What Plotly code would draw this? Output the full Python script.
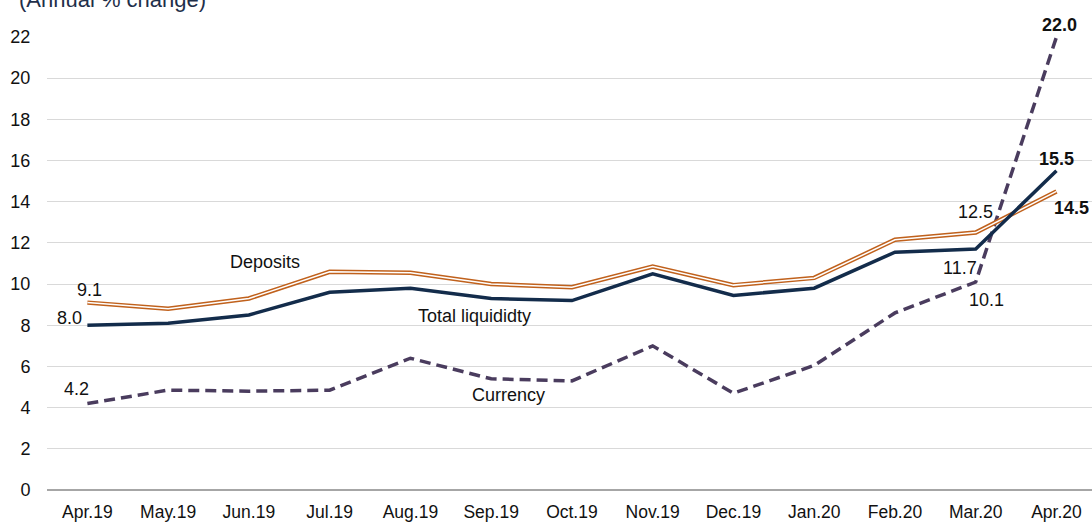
import plotly.graph_objects as go

months = ["Apr.19", "May.19", "Jun.19", "Jul.19", "Aug.19", "Sep.19", "Oct.19",
          "Nov.19", "Dec.19", "Jan.20", "Feb.20", "Mar.20", "Apr.20"]
total_liquidity = [8.0, 8.1, 8.5, 9.6, 9.8, 9.3, 9.2, 10.5, 9.45, 9.8, 11.55, 11.7, 15.5]
deposits = [9.1, 8.8, 9.3, 10.6, 10.55, 10.0, 9.85, 10.85, 9.95, 10.3, 12.15, 12.5, 14.5]
currency = [4.2, 4.85, 4.8, 4.85, 6.4, 5.4, 5.3, 7.0, 4.7, 6.05, 8.6, 10.1, 22.0]
y_ticks = list(range(0, 23, 2))

NAVY = "#132C4B"
ORANGE = "#C0611C"
PURPLE = "#4A3C5E"
FONT = "Liberation Sans, Arial, sans-serif"

fig = go.Figure()
fig.add_trace(go.Scatter(x=months, y=currency, mode="lines",
                         line=dict(color=PURPLE, width=3.5, dash="11px,6px"), hoverinfo="skip"))
fig.add_trace(go.Scatter(x=months, y=deposits, mode="lines",
                         line=dict(color=ORANGE, width=4.5), hoverinfo="skip"))
fig.add_trace(go.Scatter(x=months, y=deposits, mode="lines",
                         line=dict(color="white", width=1.5), hoverinfo="skip"))
fig.add_trace(go.Scatter(x=months, y=total_liquidity, mode="lines",
                         line=dict(color=NAVY, width=3.5), hoverinfo="skip"))

ann = []
def lab(x, y, text, xshift=0, yshift=0, bold=False, size=18):
    ann.append(dict(x=x, y=y, text=f"<b>{text}</b>" if bold else text, showarrow=False,
                    xshift=xshift, yshift=yshift, xanchor="center", yanchor="middle",
                    font=dict(family=FONT, size=size, color="#111111")))

# series name labels
lab(2.2, 11.07, "Deposits")
lab(4.79, 8.45, "Total liquididty")
lab(5.21, 4.61, "Currency")

# data labels
lab(months[0], deposits[0], f"{deposits[0]:.1f}", xshift=2, yshift=13)
lab(months[0], total_liquidity[0], f"{total_liquidity[0]:.1f}", xshift=-18, yshift=7)
lab(months[0], currency[0], f"{currency[0]:.1f}", xshift=-11, yshift=15)
lab(months[11], deposits[11], f"{deposits[11]:.1f}", xshift=0, yshift=21)
lab(months[11], total_liquidity[11], f"{total_liquidity[11]:.1f}", xshift=-16, yshift=-19)
lab(months[11], currency[11], f"{currency[11]:.1f}", xshift=11, yshift=-18)
lab(months[12], currency[12], f"{currency[12]:.1f}", xshift=3, yshift=12, bold=True)
lab(months[12], total_liquidity[12], f"{total_liquidity[12]:.1f}", xshift=0, yshift=12, bold=True)
lab(months[12], deposits[12], f"{deposits[12]:.1f}", xshift=15, yshift=-17, bold=True)

ann.append(dict(x=0, xref="paper", xshift=-30, y=1, yref="paper", yshift=38,
                text="(Annual % change)", showarrow=False, xanchor="left", yanchor="middle",
                font=dict(family=FONT, size=22, color="#1F2F4A")))

fig.update_layout(
    width=1092, height=523,
    margin=dict(l=47, r=0, t=37, b=33),
    paper_bgcolor="white", plot_bgcolor="white",
    showlegend=False,
    annotations=ann,
    xaxis=dict(type="category", range=[-0.5, 12.44], showgrid=False,
               showline=False, zeroline=False,
               tickfont=dict(family=FONT, size=17.5, color="#111111"),
               ticks="outside", ticklen=6, tickcolor="rgba(0,0,0,0)"),
    yaxis=dict(range=[0, 22], tickvals=y_ticks, showgrid=True, gridcolor="#D9D9D9",
               gridwidth=1.3, zeroline=True, zerolinecolor="#A6A6A6", zerolinewidth=1.5,
               tickfont=dict(family=FONT, size=18, color="#111111"),
               ticks="outside", ticklen=12, tickcolor="rgba(0,0,0,0)"),
)
fig.write_html("out.html", config={"displayModeBar": False},
               post_script="document.body.style.margin='0px';")
